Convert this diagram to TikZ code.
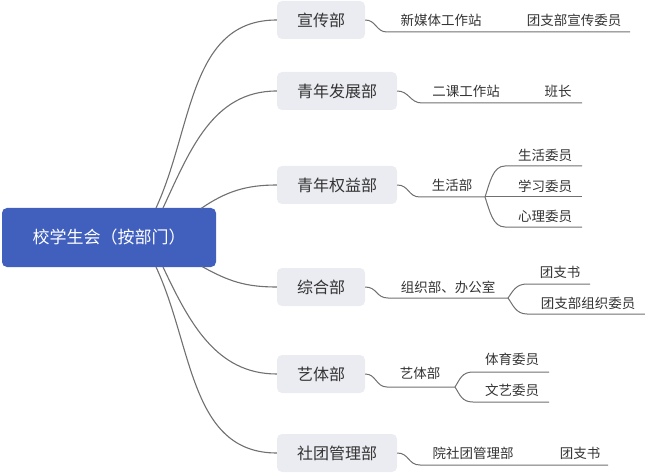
\documentclass[tikz,border=0pt]{standalone}
\usepackage{fontspec}
\setmainfont{Noto Sans CJK SC}
\definecolor{rootblue}{HTML}{4160BE}
\definecolor{deptgray}{HTML}{EBECF1}
\definecolor{linegray}{HTML}{707070}
\definecolor{txt}{HTML}{333333}
\begin{document}
\begin{tikzpicture}[x=1pt,y=-1pt,
  rootbox/.style={fill=rootblue, rounded corners=5pt, minimum width=214pt, minimum height=59pt, inner sep=0pt, text=white, font=\fontsize{17}{20}\selectfont},
  dept/.style={fill=deptgray, rounded corners=5pt, minimum height=38pt, inner sep=0pt, text=txt, font=\fontsize{16}{19}\selectfont},
  lbl/.style={inner sep=0pt, text=txt, font=\fontsize{13.5}{16}\selectfont},
  conn/.style={draw=linegray, line width=1.1pt},
  sub/.style={draw=linegray, line width=1pt}]
\useasboundingbox (0,0) rectangle (645,473);

% root
\node[rootbox] (root) at (109,237.5) {校学生会（按部门）};

% departments
\node[dept, minimum width=88pt]  (b1) at (321,20)  {宣传部};
\node[dept, minimum width=120pt] (b2) at (337,91)  {青年发展部};
\node[dept, minimum width=120pt] (b3) at (337,185) {青年权益部};
\node[dept, minimum width=88pt]  (b4) at (321,287) {综合部};
\node[dept, minimum width=88pt]  (b5) at (321,374) {艺体部};
\node[dept, minimum width=120pt] (b6) at (337,453) {社团管理部};

% root connector start points
\coordinate (r1) at (156,208);
\coordinate (r2) at (163,208);
\coordinate (r3) at (201,208.5);
\coordinate (r4) at (202,266.5);
\coordinate (r5) at (163,267);
\coordinate (r6) at (156,267);

\draw[conn] (r1) .. controls +(37,-80) and +(-88,0) .. (b1.west);
\draw[conn] (r2) .. controls +(27,-58) and +(-64,0) .. (b2.west);
\draw[conn] (r3) .. controls +(25,-17) and +(-31,0) .. (b3.west);
\draw[conn] (r4) .. controls +(27,15) and +(-31,0) .. (b4.west);
\draw[conn] (r5) .. controls +(26,55) and +(-61,0) .. (b5.west);
\draw[conn] (r6) .. controls +(37,79) and +(-87,0) .. (b6.west);

% row 1
\coordinate (a1s) at (387,32);
\coordinate (a1e) at (630,32);
\draw[sub] (b1.east) .. controls +(11,0) and +(-11,0) .. (a1s) -- (a1e);
\node[lbl] (t11) at (441,20) {新媒体工作站};
\node[lbl] (t12) at (574,20) {团支部宣传委员};

% row 2
\coordinate (a2s) at (422,103);
\coordinate (a2e) at (582,103);
\draw[sub] (b2.east) .. controls +(12,0) and +(-12,0) .. (a2s) -- (a2e);
\node[lbl] (t21) at (466,91) {二课工作站};
\node[lbl] (t22) at (558,91) {班长};

% row 3
\coordinate (a3s) at (420,197);
\coordinate (j3) at (485,197);
\coordinate (c31s) at (505,166);
\coordinate (c31e) at (582,166);
\coordinate (c32e) at (582,197);
\coordinate (c33s) at (505,227);
\coordinate (c33e) at (582,227);
\draw[sub] (b3.east) .. controls +(12,0) and +(-12,0) .. (a3s) -- (j3);
\draw[sub] (j3) .. controls +(5,-15) and +(-12,0) .. (c31s) -- (c31e);
\draw[sub] (j3) -- (c32e);
\draw[sub] (j3) .. controls +(5,15) and +(-12,0) .. (c33s) -- (c33e);
\node[lbl] (t31) at (452,185) {生活部};
\node[lbl] (t32) at (545,155) {生活委员};
\node[lbl] (t33) at (545,186) {学习委员};
\node[lbl] (t34) at (545,216) {心理委员};

% row 4
\coordinate (a4s) at (388,298);
\coordinate (j4) at (508,298);
\coordinate (c41s) at (527,284);
\coordinate (c41e) at (590,284);
\coordinate (c42s) at (527,314);
\coordinate (c42e) at (645,314);
\draw[sub] (b4.east) .. controls +(12,0) and +(-12,0) .. (a4s) -- (j4);
\draw[sub] (j4) .. controls +(5,-7) and +(-11,0) .. (c41s) -- (c41e);
\draw[sub] (j4) .. controls +(5,7) and +(-11,0) .. (c42s) -- (c42e);
\node[lbl] (t41) at (448,287) {组织部、办公室};
\node[lbl] (t42) at (560,272) {团支书};
\node[lbl] (t43) at (588,303) {团支部组织委员};

% row 5
\coordinate (a5s) at (387,387);
\coordinate (j5) at (455,387);
\coordinate (c51s) at (473,372);
\coordinate (c51e) at (549,372);
\coordinate (c52s) at (473,402);
\coordinate (c52e) at (549,402);
\draw[sub] (b5.east) .. controls +(11,0) and +(-11,0) .. (a5s) -- (j5);
\draw[sub] (j5) .. controls +(5,-8) and +(-11,0) .. (c51s) -- (c51e);
\draw[sub] (j5) .. controls +(5,8) and +(-11,0) .. (c52s) -- (c52e);
\node[lbl] (t51) at (420,373) {艺体部};
\node[lbl] (t52) at (512,359) {体育委员};
\node[lbl] (t53) at (512,390) {文艺委员};

% row 6
\coordinate (a6s) at (420,465);
\coordinate (a6e) at (608,465);
\draw[sub] (b6.east) .. controls +(12,0) and +(-12,0) .. (a6s) -- (a6e);
\node[lbl] (t61) at (473,453) {院社团管理部};
\node[lbl] (t62) at (580,453) {团支书};
\end{tikzpicture}
\end{document}
